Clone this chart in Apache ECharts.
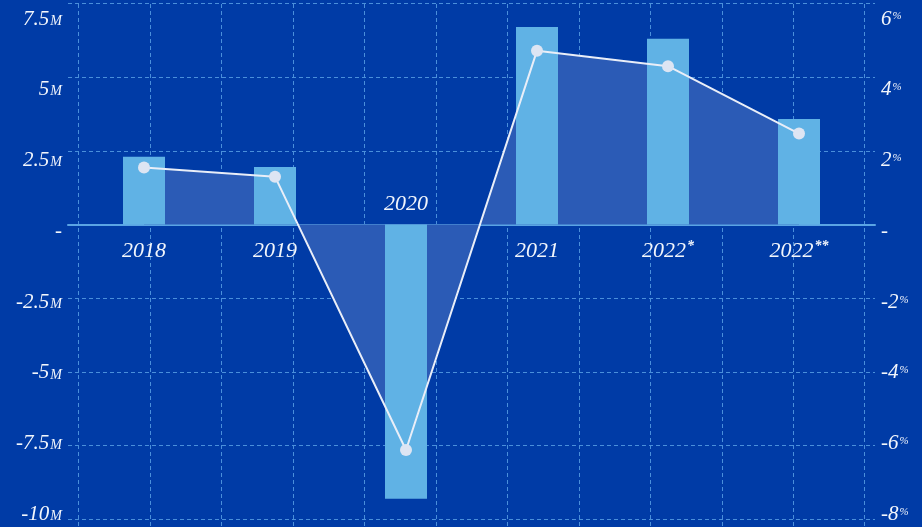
<!DOCTYPE html>
<html>
<head>
<meta charset="utf-8">
<script src="https://cdn.jsdelivr.net/npm/echarts@6/dist/echarts.min.js"></script>
<style>
  html, body { margin: 0; padding: 0; background: #003ba6; }
  #chart { width: 922px; height: 527px; }
</style>
</head>
<body>
<div id="chart"></div>
<script>
// Yearly volume (millions, bars) and year-on-year change (%, line)
const categories = ['2018', '2019', '2020', '2021', '2022*', '2022**'];
const volumeM = [2.3, 1.95, -9.3, 6.7, 6.3, 3.58];
const changePct = [1.55, 1.3, -6.12, 4.72, 4.3, 2.47];

// Axis ranges: [min, max, step]
const volumeAxis = [-10, 7.5, 2.5];
const pctAxis = [-8, 6, 2];

const FONT = 'Liberation Serif';
const TEXT = '#f2f6fc';
const GRID_LINE = '#4a8fdb';

const numStyle = { fontFamily: FONT, fontStyle: 'italic', fontSize: 21, color: TEXT, lineHeight: 24 };

function volumeLabel(v) {
  if (v === 0) return '{n|-}';
  return '{n|' + v + '}{u|M}';
}
function pctLabel(v) {
  if (v === 0) return '{n|-}';
  return '{n|' + v + '}{p|%}';
}
function catLabel(name) {
  const m = name.match(/^(\d+)(\**)$/);
  return m[2] ? '{y|' + m[1] + '}{s|' + m[2] + '}' : '{y|' + m[1] + '}';
}

const chart = echarts.init(document.getElementById('chart'), null, { renderer: 'canvas' });

const option = {
  backgroundColor: '#003ba6',
  animation: false,
  grid: [
    // 0: data marks
    { left: 78.5, right: 57.5, top: 3.5, bottom: 7.7 },
    // 1: horizontal guides and zero baseline
    { left: 68, right: 47, top: 3.5, bottom: 7.7 },
    // 2: vertical guides
    { left: 78.7, right: 57.3, top: 4, bottom: 0 },
    // 3: tick labels
    { left: 68, right: 47, top: 19, bottom: 12.5 }
  ],
  xAxis: [
    { gridIndex: 0, type: 'category', data: categories, show: false },
    {
      gridIndex: 1, type: 'value', min: 0, max: 1,
      axisLine: { show: true, onZero: true, lineStyle: { color: '#5aa4e4', width: 2 } },
      axisTick: { show: false }, axisLabel: { show: false }, splitLine: { show: false }
    },
    {
      gridIndex: 2, type: 'value', min: 0, max: 11, interval: 1,
      axisLine: { show: false }, axisTick: { show: false }, axisLabel: { show: false },
      splitLine: { show: true, lineStyle: { color: GRID_LINE, type: [4, 3], width: 1 } }
    },
    { gridIndex: 3, type: 'value', min: 0, max: 1, show: false }
  ],
  yAxis: [
    { gridIndex: 0, type: 'value', min: volumeAxis[0], max: volumeAxis[1], interval: volumeAxis[2], show: false },
    { gridIndex: 0, type: 'value', min: pctAxis[0], max: pctAxis[1], interval: pctAxis[2], show: false },
    {
      gridIndex: 1, type: 'value', min: volumeAxis[0], max: volumeAxis[1], interval: volumeAxis[2],
      axisLine: { show: false }, axisTick: { show: false }, axisLabel: { show: false },
      splitLine: { show: true, lineStyle: { color: GRID_LINE, type: [4, 3], width: 1 } }
    },
    { gridIndex: 2, type: 'value', min: 0, max: 1, show: false },
    {
      gridIndex: 3, type: 'value', position: 'left',
      min: volumeAxis[0], max: volumeAxis[1], interval: volumeAxis[2],
      axisLine: { show: false }, axisTick: { show: false }, splitLine: { show: false },
      axisLabel: {
        margin: 6, formatter: volumeLabel,
        rich: {
          n: numStyle,
          u: { fontFamily: FONT, fontStyle: 'italic', fontSize: 14, color: TEXT, lineHeight: 24, verticalAlign: 'bottom', padding: [0, 0, 3, 1] }
        }
      }
    },
    {
      gridIndex: 3, type: 'value', position: 'right',
      min: pctAxis[0], max: pctAxis[1], interval: pctAxis[2],
      axisLine: { show: false }, axisTick: { show: false }, splitLine: { show: false },
      axisLabel: {
        margin: 6, formatter: pctLabel,
        rich: {
          n: numStyle,
          p: { fontFamily: FONT, fontStyle: 'italic', fontSize: 11, color: TEXT, lineHeight: 24, verticalAlign: 'top', padding: [4, 0, 0, 1] }
        }
      }
    }
  ],
  series: [
    {
      name: 'change-area', type: 'line', xAxisIndex: 0, yAxisIndex: 1,
      data: changePct, z: 1, silent: true,
      symbol: 'none', lineStyle: { width: 0 },
      areaStyle: { color: '#2b5bb6', opacity: 1 }
    },
    {
      name: 'volume', type: 'bar', xAxisIndex: 0, yAxisIndex: 0,
      data: volumeM, barWidth: 42, z: 3,
      itemStyle: { color: '#60b2e5' }
    },
    {
      name: 'year-labels', type: 'scatter', xAxisIndex: 0, yAxisIndex: 0, z: 5,
      symbol: 'circle', symbolSize: 1, itemStyle: { color: 'rgba(0,0,0,0)' }, silent: true,
      data: volumeM.map(v => ({
        value: 0,
        label: v < 0 ? { position: 'top', distance: 8 } : { position: 'bottom', distance: 14 }
      })),
      label: {
        show: true, opacity: 1, color: TEXT, textBorderWidth: 0,
        formatter: p => catLabel(categories[p.dataIndex]),
        rich: {
          y: { fontFamily: FONT, fontStyle: 'italic', fontSize: 22, color: TEXT, opacity: 1, lineHeight: 24 },
          s: { fontFamily: FONT, fontStyle: 'italic', fontWeight: 'bold', fontSize: 14, color: TEXT, opacity: 1, lineHeight: 24, verticalAlign: 'top', padding: [0, 0, 8, 1] }
        }
      }
    },
    {
      name: 'change', type: 'line', xAxisIndex: 0, yAxisIndex: 1,
      data: changePct, z: 6,
      symbol: 'circle', symbolSize: 12,
      lineStyle: { color: '#e9eef8', width: 2 },
      itemStyle: { color: '#dde5f3' }
    }
  ]
};

chart.setOption(option);
</script>
</body>
</html>
